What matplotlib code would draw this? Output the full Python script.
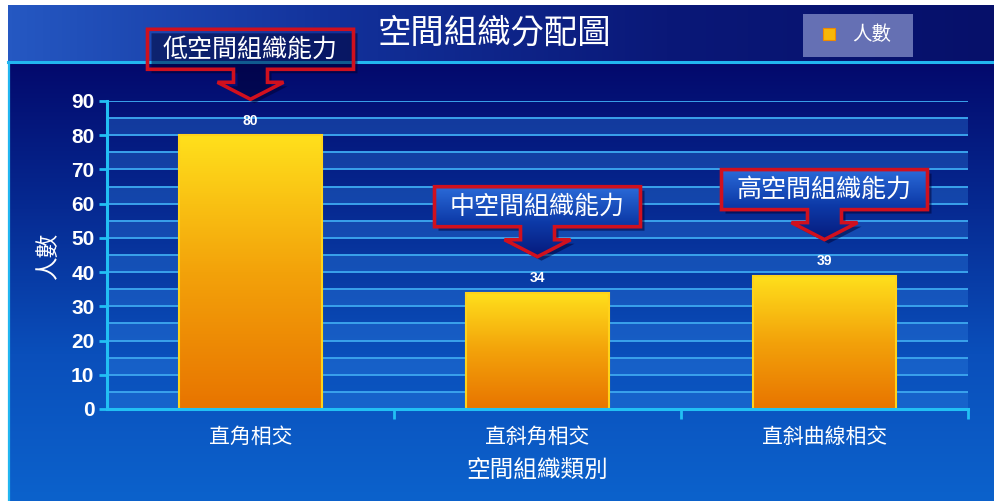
import numpy as np
import matplotlib.pyplot as plt
from matplotlib.colors import LinearSegmentedColormap
from matplotlib.patches import Polygon, Rectangle
from matplotlib.transforms import ScaledTranslation

plt.rcParams['font.family'] = ['Noto Sans CJK TC', 'DejaVu Sans']

categories = ['直角相交', '直斜角相交', '直斜曲線相交']
counts = [80, 34, 39]
callouts = ['低空間組織能力', '中空間組織能力', '高空間組織能力']
title = '空間組織分配圖'
series_name = '人數'
x_title = '空間組織類別'
y_title = '人數'

W, H = 995, 501
fig = plt.figure(figsize=(W / 100, H / 100), dpi=100)
fig.patch.set_facecolor('white')

# background: header strip + body gradient, in pixel coordinates
bg = fig.add_axes([0, 0, 1, 1])
bg.set_xlim(0, W)
bg.set_ylim(H, 0)
bg.axis('off')

head_cmap = LinearSegmentedColormap.from_list('head', ['#2558c2', '#12319a', '#0a1878', '#06106a'])
gx = np.linspace(0, 1, 256).reshape(1, -1)
bg.imshow(gx, cmap=head_cmap, extent=(8, W, 62, 5), aspect='auto')

body_cmap = LinearSegmentedColormap.from_list('body', ['#03096c', '#062a92', '#0a4fbb', '#0c62cc'])
gy = np.linspace(0, 1, 256).reshape(-1, 1)
bg.imshow(gy, cmap=body_cmap, extent=(8, W, H, 62), aspect='auto')

bg.plot([8, W], [62, 62], color='#22b6f0', lw=2.2)
bg.plot([9, 9], [62, H], color='#22b6f0', lw=1.6)

bg.text(494, 33, title, color='white', fontsize=24, ha='center', va='center')

# legend box
bg.add_patch(Rectangle((803, 14), 110, 43, facecolor='#6b76b8', edgecolor='none', alpha=0.95))
bg.add_patch(Rectangle((823, 28), 12, 12, facecolor='#f7b708', edgecolor='#f08a00', lw=0.8))
bg.text(852, 35, series_name, color='white', fontsize=14, ha='left', va='center')

# plot area
ax = fig.add_axes([107 / W, (H - 409) / H, 861 / W, 308 / H])
ax.patch.set_alpha(0)

for lo in range(0, 90, 10):
    ax.axhspan(lo, lo + 5, color='#2f7fe0', alpha=0.35, lw=0, zorder=0)
for y in range(5, 91, 5):
    ax.axhline(y, color='#3aa2ec', lw=1.4, zorder=1)

bar_cmap = LinearSegmentedColormap.from_list('bar', ['#e87400', '#f3a20a', '#ffe01c'])
x = np.arange(len(categories))
bars = ax.bar(x, counts, width=0.5, color='none', edgecolor='#ffd21a', lw=1.5, zorder=3)
for b in bars:
    x0, w, h = b.get_x(), b.get_width(), b.get_height()
    ax.imshow(gy[::-1], cmap=bar_cmap, extent=(x0, x0 + w, 0, h), aspect='auto', zorder=2)

for xi, v in zip(x, counts):
    ax.text(xi, v + 2.2, str(v), color='white', fontsize=10, fontweight='bold',
            family='Liberation Sans', ha='center', va='bottom', zorder=4)

# callout boxes with down arrows, shape given in inches relative to the tip
shape = np.array([
    (0, 0), (0.33, 0.17), (0.17, 0.17), (0.17, 0.30), (1.03, 0.30), (1.03, 0.70),
    (-1.03, 0.70), (-1.03, 0.30), (-0.17, 0.30), (-0.17, 0.17), (-0.33, 0.17),
])
fill_cmap = LinearSegmentedColormap.from_list('fill', ['#061a7c', '#0d3aa8', '#2a6ad8'])
for xi, v, label in zip(x, counts, callouts):
    tr = fig.dpi_scale_trans + ScaledTranslation(xi, v + 10.5, ax.transData)
    shadow = Polygon(shape + [0.04, -0.04], closed=True, transform=tr, facecolor='#000030',
                     alpha=0.5, edgecolor='none', clip_on=False, zorder=5)
    ax.add_patch(shadow)
    img = ax.imshow(gy[::-1], cmap=fill_cmap, extent=(-1.03, 1.03, 0, 0.70),
                    transform=tr, aspect='auto', zorder=6)
    clip = Polygon(shape, closed=True, transform=tr, facecolor='none', edgecolor='none')
    ax.add_patch(clip)
    img.set_clip_path(clip)
    ax.add_patch(Polygon(shape, closed=True, transform=tr, facecolor='none',
                         edgecolor='#d0101e', lw=2.6, clip_on=False, zorder=7))
    ax.text(0, 0.50, label, transform=tr, color='white', fontsize=18,
            ha='center', va='center', zorder=8)
ax.set_xlim(-0.5, 2.5)
ax.set_ylim(0, 90)

# axes styling
axis_col = '#22c0f4'
for side in ['top', 'right']:
    ax.spines[side].set_visible(False)
for side in ['left', 'bottom']:
    ax.spines[side].set_color(axis_col)
    ax.spines[side].set_linewidth(2.2)
    ax.spines[side].set_zorder(9)

ax.set_yticks(range(0, 91, 10))
ax.tick_params(axis='y', colors=axis_col, width=2, length=6, pad=3)
for t in ax.get_yticklabels():
    t.set_color('white')
    t.set_fontweight('bold')
    t.set_fontsize(15)
    t.set_family('Liberation Sans')

ax.set_xticks(x)
ax.set_xticklabels(categories, color='white', fontsize=15)
ax.set_xticks([0.5, 1.5, 2.5], minor=True)
ax.tick_params(axis='x', which='major', length=0, pad=12)
ax.tick_params(axis='x', which='minor', colors=axis_col, width=2, length=7)

ax.set_xlabel(x_title, color='white', fontsize=17, labelpad=8)
ax.set_ylabel(y_title, color='white', fontsize=17, labelpad=8)

fig.savefig('out.png', dpi=100, facecolor='white')
